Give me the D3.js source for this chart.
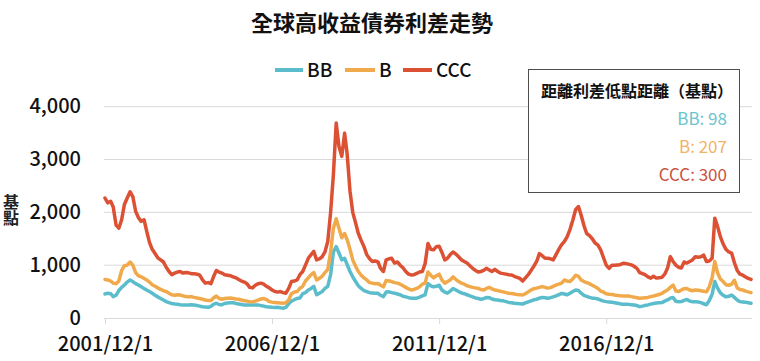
<!DOCTYPE html>
<html>
<head>
<meta charset="utf-8">
<script src="https://cdn.jsdelivr.net/npm/d3@7"></script>
<style>
  body { margin: 0; background: #fff; }
  text { font-family: "Noto Sans CJK TC", "Noto Sans", sans-serif; }
</style>
</head>
<body>
<div id="canvas"></div>
<script>
"use strict"

/* Data: monthly spreads (bps), 2001/12 - 2021/4, one row per year */
let startMonth = new Date(2001, 11, 1);
let endMonth = new Date(2021, 4, 1);   // exclusive

let ccc = [
    2270, 2180, 2210, 2100, 1760, 1700, 1860, 2150, 2270, 2390, 2300, 2020,
    1900, 1830, 1860, 1650, 1430, 1300, 1220, 1140, 1100, 1060, 960, 880,
    820, 850, 870, 880, 850, 860, 855, 840, 840, 830, 810, 720,
    660, 670, 650, 780, 900, 870, 850, 820, 810, 800, 780, 760,
    730, 700, 680, 650, 580, 570, 620, 650, 660, 640, 600, 570,
    530, 500, 490, 500, 480, 470, 560, 690, 700, 720, 820, 880,
    1000, 1130, 1200, 1260, 1100, 1120, 1160, 1250, 1450, 2000, 2700, 3690,
    3250, 3060, 3500, 3100, 2400, 2000, 1800, 1600, 1470, 1350, 1200, 1120,
    1070, 1080, 1060, 940, 880, 1100, 1120, 1130, 1040, 1060, 1000, 950,
    880, 830, 815, 820, 845, 870, 880, 1030, 1410, 1300, 1290, 1350,
    1360, 1240, 1100, 1130, 1200, 1250, 1210, 1160, 1100, 1070, 1040, 990,
    940, 900, 870, 880, 900, 940, 910, 880, 920, 880, 850, 840,
    830, 820, 815, 790, 770, 750, 700, 760, 820, 900, 980, 1070,
    1220, 1180, 1130, 1130, 1120, 1100, 1200, 1300, 1390, 1450, 1540, 1680,
    1850, 2050, 2110, 1950, 1750, 1600, 1560, 1500, 1420, 1380, 1290, 1140,
    1000, 940, 1000, 1000, 1005, 1010, 1035, 1030, 1020, 1005, 980, 940,
    860, 840, 815, 780, 755, 790, 755, 760, 770, 830, 940, 1160,
    1070, 1000, 960, 945, 1060, 1040, 1070, 1100, 1160, 1150, 1160, 1190,
    1070, 1080, 1130, 1890, 1730, 1540, 1400, 1300, 1250, 1230, 1050, 900,
    830, 810, 775, 750, 730
];

let b = [
    730, 720, 700, 660, 650, 700, 900, 990, 1000, 1060, 1000, 860,
    800, 780, 750, 720, 680, 630, 600, 570, 540, 520, 500, 470,
    440, 430, 440, 435, 420, 405, 400, 405, 390, 380, 370, 355,
    340, 330, 330, 380, 415, 370, 355, 370, 375, 380, 370, 360,
    355, 340, 325, 320, 310, 305, 320, 340, 360, 370, 350, 310,
    300, 295, 290, 285, 280, 290, 340, 460, 490, 500, 560, 600,
    700, 760, 820, 860, 720, 750, 790, 860, 920, 1250, 1700, 1880,
    1700, 1520, 1600, 1480, 1300, 1100, 980, 880, 810, 760, 720, 670,
    660, 650, 655, 620, 590, 710, 700, 690, 670, 660, 640, 610,
    580, 550, 530, 540, 560, 590, 640, 660, 870, 810, 760, 800,
    830, 720, 660, 690, 720, 780, 730, 690, 660, 640, 610, 595,
    580, 570, 560, 540, 530, 560, 580, 550, 530, 520, 505, 495,
    480, 470, 465, 455, 445, 440, 435, 460, 495, 530, 555, 565,
    580, 595, 580, 565, 575, 600, 625, 640, 660, 720, 700, 690,
    740, 810, 790, 720, 690, 670, 650, 620, 590, 560, 510, 490,
    460, 450, 445, 435, 428, 420, 418, 418, 415, 405, 395, 385,
    375, 380, 385, 390, 405, 415, 430, 445, 465, 500, 530, 580,
    625, 510, 500, 530, 555, 560, 530, 515, 530, 525, 515, 505,
    495, 590, 760, 1070, 850, 740, 690, 630, 620, 640, 715, 570,
    540, 530, 510, 495, 480
];

let bb = [
    455, 470, 460, 405, 430, 520, 580, 625, 680, 720, 690, 650,
    625, 590, 560, 530, 500, 470, 430, 400, 370, 340, 310, 290,
    275, 265, 260, 250, 246, 248, 246, 250, 245, 235, 225, 214,
    208, 202, 220, 260, 280, 255, 250, 275, 285, 290, 290, 275,
    265, 255, 246, 246, 248, 245, 246, 248, 235, 225, 214, 210,
    202, 200, 202, 192, 185, 200, 270, 320, 345, 370, 380, 460,
    480, 530, 560, 600, 440, 470, 500, 560, 600, 820, 1250, 1350,
    1230, 1100, 1130, 1010, 880, 780, 690, 610, 560, 520, 500, 480,
    475, 470, 468, 430, 405, 490, 495, 480, 470, 455, 440, 410,
    400, 385, 375, 372, 375, 395, 420, 440, 650, 610, 590, 600,
    620, 530, 490, 470, 510, 560, 530, 500, 475, 460, 440, 420,
    400, 380, 370, 355, 365, 390, 385, 360, 345, 340, 330, 325,
    310, 295, 290, 280, 275, 270, 265, 285, 305, 325, 345, 355,
    375, 390, 385, 375, 385, 400, 420, 440, 465, 455, 440, 470,
    500, 530, 520, 470, 430, 410, 390, 375, 372, 360, 340, 320,
    310, 305, 300, 290, 280, 270, 262, 260, 258, 252, 245, 235,
    215, 225, 240, 248, 262, 275, 282, 288, 292, 320, 342, 375,
    390, 315, 308, 310, 335, 352, 320, 308, 310, 305, 290, 270,
    250, 330, 450, 690, 565, 475, 430, 400, 410, 435, 390, 340,
    310, 305, 300, 290, 278
];

let seriesNames = ["BB", "B", "CCC"];
let seriesColors = ["#5bbdcb", "#f0aa4b", "#dc5034"];
let seriesValues = [bb, b, ccc];

let xTickLabels = ["2001/12/1", "2006/12/1", "2011/12/1", "2016/12/1"];
let yTicks = [0, 1000, 2000, 3000, 4000];

let boxTitle = "距離利差低點距離（基點）";
let boxLines = ["BB: 98", "B: 207", "CCC: 300"];
let boxColors = ["#6cc4d0", "#f0b368", "#c8523c"];

/* Configuration: drawing */
let svgWidth = 760;
let svgHeight = 361;
let plotLeft = 105;
let plotRight = 751;
let plotTop = 106.7;
let plotBottom = 318;

let months = d3.timeMonth.range(startMonth, endMonth);

let svg = d3.select("#canvas")
    .append("svg")
    .attr("width", svgWidth)
    .attr("height", svgHeight);

/* Scales */
let xScale = d3.scaleTime()
    .domain([months[0], months[months.length - 1]])
    .range([plotLeft, plotRight]);

let yScale = d3.scaleLinear()
    .domain([0, 4000])
    .range([plotBottom, plotTop]);

/* Grid lines */
svg.append("g")
    .selectAll("line")
    .data(yTicks.filter(d => d > 0))
    .join("line")
    .attr("x1", plotLeft - 1)
    .attr("x2", plotRight + 1)
    .attr("y1", d => yScale(d))
    .attr("y2", d => yScale(d))
    .attr("stroke", "#d9d9d9")
    .attr("stroke-width", 1);

/* Y axis labels */
let yAxis = svg.append("g")
    .attr("transform", "translate(" + (plotLeft - 24) + ",0)")
    .call(d3.axisLeft(yScale).tickValues(yTicks).tickFormat(d3.format(",")).tickSize(0));
yAxis.select(".domain").remove();
yAxis.selectAll("text")
    .attr("x", 0)
    .attr("dy", "0.3em")
    .attr("font-size", 20)
    .attr("font-weight", 500)
    .attr("fill", "#111")
    .style("font-family", "'Noto Sans CJK TC', sans-serif");

/* X axis */
let parseTick = d3.timeParse("%Y/%m/%d");
let xAxis = svg.append("g")
    .attr("transform", "translate(0," + plotBottom + ")")
    .call(d3.axisBottom(xScale)
        .tickValues(xTickLabels.map(parseTick))
        .tickFormat((d, i) => xTickLabels[i])
        .tickSizeInner(6)
        .tickSizeOuter(0));
xAxis.select(".domain")
    .attr("stroke", "#d9d9d9")
    .attr("d", "M" + (plotLeft - 1) + ",0.5H" + (plotRight + 1));
xAxis.selectAll(".tick line").attr("stroke", "#d9d9d9");
xAxis.selectAll("text")
    .attr("y", 19)
    .attr("font-size", 20)
    .attr("font-weight", 500)
    .attr("fill", "#111")
    .style("font-family", "'Noto Sans CJK TC', sans-serif");

/* Y axis title, written vertically */
svg.append("text")
    .attr("x", 11)
    .attr("y", 210)
    .attr("text-anchor", "middle")
    .attr("font-size", 16)
    .attr("font-weight", 700)
    .attr("fill", "#222")
    .style("writing-mode", "vertical-rl")
    .text("基點");

/* Lines */
let line = d3.line()
    .x((d, i) => xScale(months[i]))
    .y(d => yScale(d));

svg.append("g")
    .selectAll("path")
    .data(seriesValues)
    .join("path")
    .attr("d", d => line(d))
    .attr("fill", "none")
    .attr("stroke", (d, i) => seriesColors[i])
    .attr("stroke-width", 3.5)
    .attr("stroke-linejoin", "round")
    .attr("stroke-linecap", "round");

/* Title */
svg.append("text")
    .attr("x", 372)
    .attr("y", 31)
    .attr("text-anchor", "middle")
    .attr("font-size", 22)
    .attr("font-weight", 700)
    .attr("fill", "#111")
    .text("全球高收益債券利差走勢");

/* Legend */
let legendItems = [
    {x1: 275, x2: 303, tx: 307},
    {x1: 345, x2: 375, tx: 379},
    {x1: 403, x2: 432, tx: 436}
];
let legendY = 70;
legendItems.forEach(function (item, i) {
    svg.append("line")
        .attr("x1", item.x1)
        .attr("x2", item.x2)
        .attr("y1", legendY)
        .attr("y2", legendY)
        .attr("stroke", seriesColors[i])
        .attr("stroke-width", 4);
    svg.append("text")
        .attr("x", item.tx)
        .attr("y", legendY + 7)
        .attr("font-size", 19)
        .attr("font-weight", 500)
        .attr("fill", "#111")
        .text(seriesNames[i]);
});

/* Annotation box */
svg.append("rect")
    .attr("x", 528.5)
    .attr("y", 69.5)
    .attr("width", 211)
    .attr("height", 123)
    .attr("fill", "#fff")
    .attr("stroke", "#4d4d4d")
    .attr("stroke-width", 1);

svg.append("text")
    .attr("x", 637)
    .attr("y", 97)
    .attr("text-anchor", "middle")
    .attr("font-size", 16)
    .attr("font-weight", 700)
    .attr("fill", "#111")
    .text(boxTitle);

svg.append("g")
    .selectAll("text")
    .data(boxLines)
    .join("text")
    .attr("x", 727)
    .attr("y", (d, i) => 125 + i * 28)
    .attr("text-anchor", "end")
    .attr("font-size", 17)
    .attr("fill", (d, i) => boxColors[i])
    .text(d => d);
</script>
</body>
</html>
